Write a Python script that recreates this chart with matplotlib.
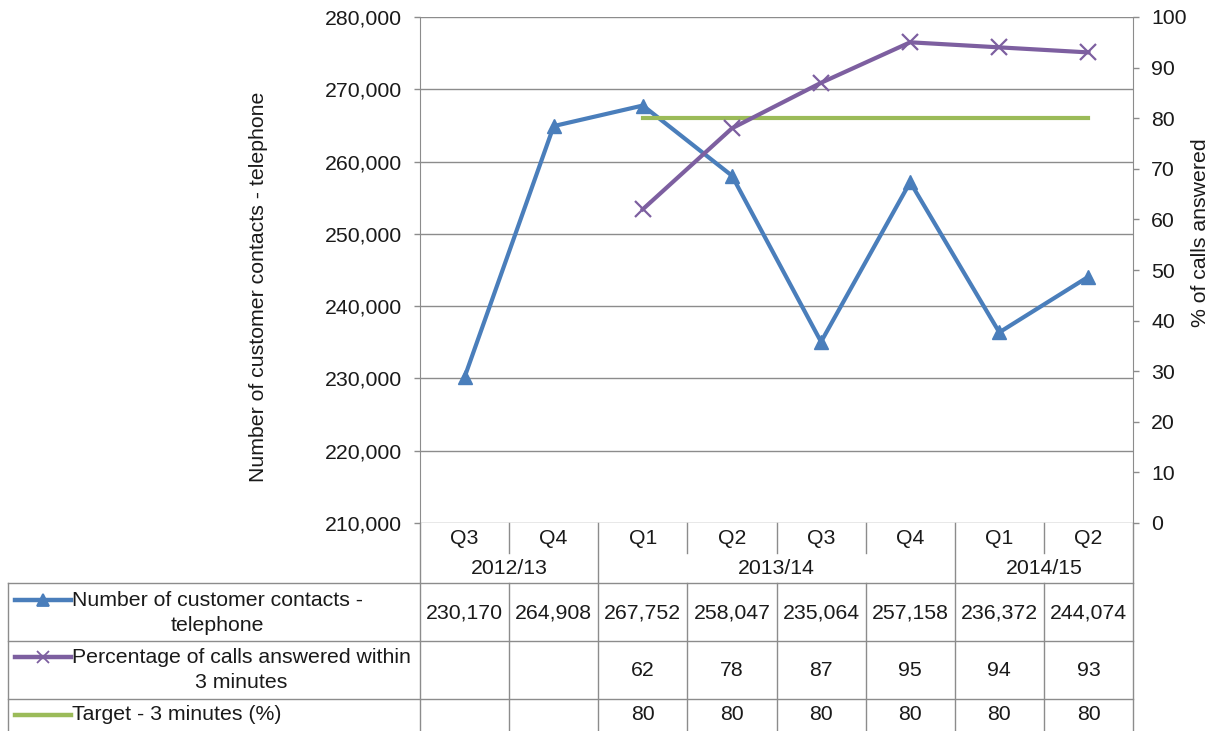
import numpy as np
import matplotlib
matplotlib.use("Agg")
import matplotlib.pyplot as plt
from matplotlib.transforms import blended_transform_factory

plt.rcParams['font.family'] = ['Liberation Sans', 'DejaVu Sans']

quarters = ['Q3', 'Q4', 'Q1', 'Q2', 'Q3', 'Q4', 'Q1', 'Q2']
years = ['2012/13', '2013/14', '2014/15']
year_counts = [2, 4, 2]
contacts = [230170, 264908, 267752, 258047, 235064, 257158, 236372, 244074]
pct_answered = [np.nan, np.nan, 62, 78, 87, 95, 94, 93]
target = [np.nan, np.nan, 80, 80, 80, 80, 80, 80]
series_names = ['Number of customer contacts -\ntelephone',
                'Percentage of calls answered within\n3 minutes',
                'Target - 3 minutes (%)']

W, H = 1216, 731
BLUE = '#4A7EBB'
PURPLE = '#7D5FA0'
GREEN = '#9BBB59'
GRID = '#8C8C8C'
TXT = '#1A1A1A'
FS = 15.3

fig = plt.figure(figsize=(W / 100, H / 100), dpi=100)
L, R, T, B = 420, 1133, 17, 523
ax = fig.add_axes([L / W, 1 - B / H, (R - L) / W, (B - T) / H])
ax2 = ax.twinx()

x = np.arange(len(quarters))
ax.set_xlim(-0.5, len(quarters) - 0.5)
ax.set_ylim(210000, 280000)
ax.set_yticks(np.arange(210000, 280001, 10000))
ax.set_yticklabels([f'{v:,}' for v in range(210000, 280001, 10000)])
ax.grid(axis='y', color=GRID, lw=1)
ax.set_xticks([])
ax2.set_ylim(0, 100)
ax2.set_yticks(np.arange(0, 101, 10))

for a in (ax, ax2):
    for s in a.spines.values():
        s.set_visible(False)
    a.tick_params(axis='y', colors=GRID, labelcolor=TXT, labelsize=FS, length=4, width=1,
                  pad=9)
    a.patch.set_visible(False)
ax.spines['left'].set_visible(True)
ax.spines['left'].set_color(GRID)
ax2.spines['right'].set_visible(True)
ax2.spines['right'].set_color(GRID)

ax.plot(x, contacts, color=BLUE, lw=3, marker='^', ms=10, zorder=5)
ax2.plot(x, pct_answered, color=PURPLE, lw=3, marker='x', ms=12, mew=1.6, zorder=4)
ax2.plot(x, target, color=GREEN, lw=3, zorder=3)

fig.text(258 / W, 1 - 287 / H, 'Number of customer contacts - telephone', rotation=90,
         ha='center', va='center', fontsize=FS, color=TXT)
fig.text(1200 / W, 1 - 233 / H, '% of calls answered', rotation=90,
         ha='center', va='center', fontsize=FS, color=TXT)

# table overlay in pixel coordinates
tab = fig.add_axes([0, 0, 1, 1])
tab.set_xlim(0, W)
tab.set_ylim(H, 0)
tab.axis('off')
tr = blended_transform_factory(ax.transData, tab.transData)
lk = dict(color=GRID, lw=1)

n = len(quarters)
row_tops = [583, 641, 699]
row_centers = [613, 670, 715]
group_edges = np.cumsum([0] + year_counts) - 0.5
for i in range(n + 1):
    e = i - 0.5
    if e in group_edges:
        tab.plot([e, e], [B, H], transform=tr, **lk)
    else:
        tab.plot([e, e], [B, 553], transform=tr, **lk)
        tab.plot([e, e], [row_tops[0], H], transform=tr, **lk)
for i, q in enumerate(quarters):
    tab.text(i, 539, q, transform=tr, ha='center', va='center', fontsize=FS, color=TXT)
start = 0
for yname, c in zip(years, year_counts):
    tab.text(start + (c - 1) / 2, 568, yname, transform=tr, ha='center', va='center',
             fontsize=FS, color=TXT)
    start += c

for yy in row_tops:
    tab.plot([8, R], [yy, yy], **lk)
tab.plot([8, 8], [row_tops[0], H], **lk)

colors = [BLUE, PURPLE, GREEN]
markers = ['^', 'x', None]
rows = [[f'{v:,}' for v in contacts],
        ['' if np.isnan(v) else f'{v:.0f}' for v in pct_answered],
        ['' if np.isnan(v) else f'{v:.0f}' for v in target]]
for k in range(3):
    yc = row_centers[k]
    ky = yc - 13 if k < 2 else yc
    tab.plot([15, 71], [ky, ky], color=colors[k], lw=3.2)
    if markers[k]:
        tab.plot([43], [ky], color=colors[k], marker=markers[k],
                 ms=8 if k == 0 else 9, mew=1.3)
    tab.text(72, yc, series_names[k], ha='left', va='center', multialignment='center',
             fontsize=FS, color=TXT, linespacing=1.45)
    for i, s in enumerate(rows[k]):
        tab.text(i, yc, s, transform=tr, ha='center', va='center', fontsize=FS, color=TXT)

fig.savefig('out.png', dpi=100, facecolor='white')
